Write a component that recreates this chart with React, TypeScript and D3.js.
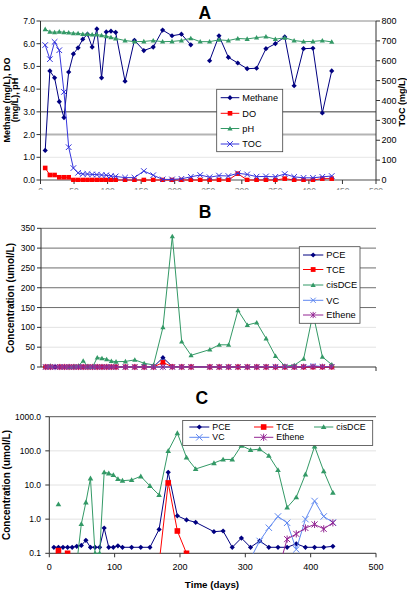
import React from "react";
import * as d3 from "d3";

// ---------- DATA ----------
const fieldDays = [7, 14, 21, 28, 35, 42, 49, 56, 63, 70, 77, 84, 91, 98, 105, 112, 126, 140, 154, 168, 182, 196, 210, 224, 238, 252, 266, 280, 294, 308, 322, 336, 350, 364, 378, 392, 406, 420, 434];
const methane = [1.3, 4.8, 4.5, 3.45, 2.75, 4.75, 5.55, 5.82, 6.2, 6.42, 5.85, 6.65, 4.5, 6.52, 6.55, 6.5, 4.35, 6.15, 5.7, 5.85, 6.6, 6.35, 6.42, 5.95, null, 5.25, 6.35, 5.4, 5.15, 4.9, 4.92, 5.78, 6.0, 6.3, 4.15, 5.78, 5.8, 2.95, 4.8];
const dissolvedO2 = [0.53, 0.22, 0.22, 0.12, 0.12, 0.12, 0, 0, 0, 0, 0, 0, 0, 0, 0, 0, 0, 0, 0, 0, 0, 0, 0, 0, 0, 0, 0, 0, 0.28, 0, 0, 0, 0, 0.06, 0, 0, 0, 0.06, 0.06];
const pH = [6.64, 6.52, 6.5, 6.53, 6.5, 6.49, 6.46, 6.46, 6.42, 6.42, 6.4, 6.4, 6.37, 6.33, 6.28, 6.23, 6.14, 6.09, 6.1, 6.14, 6.09, 6.1, 6.14, 6.24, 6.09, 6.09, 6.17, 6.14, 6.23, 6.21, 6.27, 6.31, 6.2, 6.26, 6.14, 6.09, 6.1, 6.14, 6.08];
const toc = [679, 608, 695, 653, 443, 165, 60, 36, 30, 30, 28, 27, 25, 24, 20, 18, 12, 12, 45, 24, 3, 3, 6, 16, 25, 14, 22, 20, 34, 28, 17, 18, 16, 30, 16, 11, 11, 16, 20];

const vocDays = [7, 14, 21, 28, 35, 42, 49, 56, 63, 70, 77, 84, 91, 98, 105, 112, 126, 140, 154, 168, 182, 196, 210, 224, 252, 266, 280, 294, 308, 322, 336, 350, 364, 378, 392, 406, 420, 434];
const pce = [0.15, 0.15, 0.15, 0.15, 0.15, 0.16, 0.17, 0.24, 0.15, 0.15, 0.15, 0.55, 0.15, 0.15, 0.165, 0.15, 0.15, 0.15, 0.15, 0.5, 23.5, 1.25, 0.95, 0.81, 0.43, 0.45, 0.15, 0.28, 0.15, 0.23, 0.15, 0.15, 0.15, 0.19, 0.15, 0.15, 0.15, 0.16];
const tce = [0.08, 0.12, null, 0.1, 0.05, 0.05, 0.05, 0.05, 0.05, 0.05, 0.05, 0.05, 0.05, 0.05, 0.05, 0.05, 0.05, 0.05, 0.05, 0.05, 11.5, 0.45, 0.1, 0.05, 0.05, 0.05, 0.05, 0.05, 0.05, 0.05, 0.05, 0.05, 0.05, 0.05, 0.05, 0.05, 0.05, 0.05];
const cisDCE = [null, 2.73, null, null, null, 0.05, 0.72, 3.1, 15.7, 0.1, 0.1, 23.6, 22, 19.6, 15, 13.4, 14, 18, 9.4, 5.1, 100, 330, 64, 29.5, 44, 56, 56, 143, 106, 112, 72, 27.5, 2.2, 4.4, 20.5, 135, 25.5, 6];
const vc = [0.05, 0.05, 0.05, 0.05, 0.05, 0.05, 0.05, 0.05, 0.05, 0.05, 0.05, 0.05, 0.05, 0.05, 0.05, 0.05, 0.05, 0.05, 0.05, 0.05, 0.05, 0.05, 0.05, 0.05, 0.05, 0.05, 0.05, 0.05, 0.07, 0.23, 0.56, 1.2, 0.78, 0.13, 1.0, 3.4, 1.2, 0.8];
const ethene = [0.03, 0.03, 0.03, 0.03, 0.03, 0.03, 0.03, 0.03, 0.03, 0.03, 0.03, 0.03, 0.03, 0.03, 0.03, 0.03, 0.03, 0.03, 0.03, 0.03, 0.03, 0.03, 0.03, 0.03, 0.03, 0.03, 0.03, 0.03, 0.03, 0.03, 0.03, 0.03, 0.26, 0.37, 0.55, 0.7, 0.52, 0.78];

const leftTicksA = [0, 1, 2, 3, 4, 5, 6, 7];
const rightTicksA = [0, 100, 200, 300, 400, 500, 600, 700, 800];
const xTicksA = [0, 50, 100, 150, 200, 250, 300, 350, 400, 450, 500];
const yTicksB = [0, 50, 100, 150, 200, 250, 300, 350];
const yTicksC = [0.1, 1, 10, 100, 1000];
const xTicksC = [0, 100, 200, 300, 400, 500];

// ---------- STYLE ----------
const FONT = "'Liberation Sans', Arial, Helvetica, sans-serif";
const NAVY = "#000080";
const RED = "#ff0000";
const GREEN = "#339966";
const TOCBLUE = "#3535dd";
const VCBLUE = "#5f88f0";
const PURPLE = "#932593";
const AXIS = "#333";

type MType = "diamond" | "square" | "triangle" | "x" | "star";

function Marker({ type, x, y, s, color }: { type: MType; x: number; y: number; s: number; color: string }) {
  switch (type) {
    case "diamond":
      return <path d={`M${x},${y - s}L${x + s},${y}L${x},${y + s}L${x - s},${y}Z`} fill={color} />;
    case "square":
      return <rect x={x - s} y={y - s} width={2 * s} height={2 * s} fill={color} />;
    case "triangle":
      return <path d={`M${x},${y - s}L${x + s},${y + s * 0.75}L${x - s},${y + s * 0.75}Z`} fill={color} />;
    case "x":
      return <path d={`M${x - s},${y - s}L${x + s},${y + s}M${x - s},${y + s}L${x + s},${y - s}`} stroke={color} strokeWidth={1} fill="none" />;
    case "star":
      return (
        <path
          d={`M${x - s},${y - s}L${x + s},${y + s}M${x - s},${y + s}L${x + s},${y - s}M${x},${y - s * 1.2}L${x},${y + s * 1.2}`}
          stroke={color}
          strokeWidth={1}
          fill="none"
        />
      );
  }
  return null;
}

function Series({ days, vals, xs, ys, color, type, s, clipId, minV }: any) {
  const pts: [number, number | null][] = days.map((d: number, i: number) => [d, vals[i]]);
  const line = d3
    .line<[number, number | null]>()
    .defined((d) => d[1] != null)
    .x((d) => xs(d[0]))
    .y((d) => ys(d[1] as number));
  return (
    <g clipPath={clipId ? `url(#${clipId})` : undefined}>
      <path d={line(pts) || ""} fill="none" stroke={color} strokeWidth={1} />
      {pts
        .filter((p) => p[1] != null && (minV == null || (p[1] as number) >= minV))
        .map((p, i) => (
          <Marker key={i} type={type} x={xs(p[0])} y={ys(p[1] as number)} s={s} color={color} />
        ))}
    </g>
  );
}

function LegendItem({ x1, x2, y, color, type, s, label, fs }: any) {
  return (
    <g>
      <line x1={x1} x2={x2} y1={y} y2={y} stroke={color} strokeWidth={1} />
      <Marker type={type} x={(x1 + x2) / 2} y={y} s={s} color={color} />
      <text x={x2 + 3} y={y + fs * 0.35} fontSize={fs} fontFamily={FONT} fill="#000">
        {label}
      </text>
    </g>
  );
}

export default function App() {
  // Panel A
  const xA = d3.scaleLinear().domain([0, 500]).range([40.5, 376]);
  const yA = d3.scaleLinear().domain([0, 7]).range([180, 21]);
  const yAR = d3.scaleLinear().domain([0, 800]).range([180, 21]);
  // Panel B
  const xB = d3.scaleLinear().domain([0, 500]).range([41, 376]);
  const yB = d3.scaleLinear().domain([0, 350]).range([367, 228.3]);
  // Panel C
  const xC = d3.scaleLinear().domain([0, 500]).range([49.3, 376]);
  const yC = d3.scaleLog().domain([0.1, 1000]).range([553.3, 416.7]);

  const gridA = (v: number) => (v === 3 ? { c: "#3a3a3a", w: 1 } : v === 2 ? { c: "#b4b4b4", w: 2 } : v === 7 ? { c: "#8a8a8a", w: 1 } : v === 0 ? { c: "#8a8a8a", w: 1.5 } : { c: "#e6e6e6", w: 1 });
  const gridB = (v: number) => (v >= 150 ? { c: "#6e6e6e", w: 1 } : { c: "#e2e2e2", w: 1 });

  return (
    <svg width={407} height={593} style={{ position: "absolute", left: 0, top: 0, background: "#fff" }} fontFamily={FONT}>
      <defs>
        <clipPath id="clipA">
          <rect x={40} y={15} width={337} height={167} />
        </clipPath>
        <clipPath id="clipAx">
          <rect x={0} y={182} width={407} height={8} />
        </clipPath>
        <clipPath id="clipB">
          <rect x={41} y={225} width={336} height={146} />
        </clipPath>
        <clipPath id="clipC">
          <rect x={49.3} y={416} width={327} height={137.8} />
        </clipPath>
      </defs>
      <rect x={0} y={0} width={407} height={593} fill="#fff" />

      {/* ---------------- Panel A ---------------- */}
      <text x={204.7} y={19.3} fontSize={17.5} fontWeight="bold" textAnchor="middle">A</text>
      {leftTicksA.map((v) => {
        const g = gridA(v);
        return <line key={v} x1={xA(0)} x2={xA(500)} y1={yA(v)} y2={yA(v)} stroke={g.c} strokeWidth={g.w} />;
      })}
      <line x1={40.5} x2={40.5} y1={21} y2={180} stroke={AXIS} />
      <line x1={376} x2={376} y1={21} y2={180} stroke={AXIS} />
      {leftTicksA.map((v) => (
        <g key={v}>
          <line x1={36.5} x2={40.5} y1={yA(v)} y2={yA(v)} stroke={AXIS} />
          <text x={35} y={yA(v) + 3} fontSize={8.5} textAnchor="end">{v.toFixed(1)}</text>
        </g>
      ))}
      {rightTicksA.map((v) => (
        <g key={v}>
          <line x1={376} x2={380} y1={yAR(v)} y2={yAR(v)} stroke={AXIS} />
          <text x={381.5} y={yAR(v) + 3.2} fontSize={9}>{v}</text>
        </g>
      ))}
      {xTicksA.map((v) => (
        <line key={v} x1={xA(v)} x2={xA(v)} y1={180} y2={184} stroke={AXIS} />
      ))}
      <g clipPath="url(#clipAx)">
        {xTicksA.map((v) => (
          <text key={v} x={xA(v)} y={193.5} fontSize={8.5} textAnchor="middle" fill="#888">{v}</text>
        ))}
      </g>
      <text transform="translate(10,100) rotate(-90)" fontSize={9} fontWeight="bold" textAnchor="middle">Methane (mg/L), DO</text>
      <text transform="translate(17.7,100) rotate(-90)" fontSize={9} fontWeight="bold" textAnchor="middle">(mg/L), pH</text>
      <text transform="translate(405,102) rotate(-90)" fontSize={9} fontWeight="bold" textAnchor="middle">TOC (mg/L)</text>

      <Series days={fieldDays} vals={methane} xs={xA} ys={yA} color={NAVY} type="diamond" s={2.6} clipId="clipA" />
      <Series days={fieldDays} vals={dissolvedO2} xs={xA} ys={yA} color={RED} type="square" s={2.3} clipId="clipA" />
      <Series days={fieldDays} vals={pH} xs={xA} ys={yA} color={GREEN} type="triangle" s={2.6} clipId="clipA" />
      <Series days={fieldDays} vals={toc} xs={xA} ys={yAR} color={TOCBLUE} type="x" s={2.8} clipId="clipA" />

      <rect x={216.7} y={89.3} width={66} height={62.4} fill="#fff" stroke="#444" strokeWidth={0.8} />
      <LegendItem x1={220.7} x2={239.3} y={97.7} color={NAVY} type="diamond" s={2.6} label="Methane" fs={9.2} />
      <LegendItem x1={220.7} x2={239.3} y={113.3} color={RED} type="square" s={2.3} label="DO" fs={9.2} />
      <LegendItem x1={220.7} x2={239.3} y={128.5} color={GREEN} type="triangle" s={2.6} label="pH" fs={9.2} />
      <LegendItem x1={220.7} x2={239.3} y={144} color={TOCBLUE} type="x" s={2.8} label="TOC" fs={9.2} />

      {/* ---------------- Panel B ---------------- */}
      <text x={205} y={218.3} fontSize={17.5} fontWeight="bold" textAnchor="middle">B</text>
      {yTicksB.map((v) => {
        const g = gridB(v);
        return v === 0 ? null : <line key={v} x1={xB(0)} x2={xB(500)} y1={yB(v)} y2={yB(v)} stroke={g.c} strokeWidth={g.w} />;
      })}
      <line x1={41} x2={41} y1={228.3} y2={367} stroke={AXIS} />
      <line x1={41} x2={376} y1={367} y2={367} stroke={AXIS} />
      <line x1={376} x2={376} y1={367} y2={371} stroke={AXIS} />
      {yTicksB.map((v) => (
        <g key={v}>
          <line x1={37} x2={41} y1={yB(v)} y2={yB(v)} stroke={AXIS} />
          <text x={35} y={yB(v) + 3} fontSize={8.5} textAnchor="end">{v}</text>
        </g>
      ))}
      <text transform="translate(14,298) rotate(-90)" fontSize={10} fontWeight="bold" textAnchor="middle">Concentration (umol/L)</text>

      <Series days={vocDays} vals={pce} xs={xB} ys={yB} color={NAVY} type="diamond" s={2.6} clipId="clipB" />
      <Series days={vocDays} vals={tce} xs={xB} ys={yB} color={RED} type="square" s={2.4} clipId="clipB" />
      <Series days={vocDays} vals={cisDCE} xs={xB} ys={yB} color={GREEN} type="triangle" s={2.6} clipId="clipB" />
      <Series days={vocDays} vals={vc} xs={xB} ys={yB} color={VCBLUE} type="x" s={2.6} clipId="clipB" />
      <Series days={vocDays} vals={ethene} xs={xB} ys={yB} color={PURPLE} type="star" s={2.6} clipId="clipB" />

      <rect x={299.3} y={246.7} width={60.7} height={76.6} fill="#fff" stroke="#444" strokeWidth={0.8} />
      <LegendItem x1={303} x2={323.3} y={255} color={NAVY} type="diamond" s={2.6} label="PCE" fs={9.3} />
      <LegendItem x1={303} x2={323.3} y={269.5} color={RED} type="square" s={2.4} label="TCE" fs={9.3} />
      <LegendItem x1={303} x2={323.3} y={285} color={GREEN} type="triangle" s={2.6} label="cisDCE" fs={9.3} />
      <LegendItem x1={303} x2={323.3} y={300.3} color={VCBLUE} type="x" s={2.6} label="VC" fs={9.3} />
      <LegendItem x1={303} x2={323.3} y={315} color={PURPLE} type="star" s={2.6} label="Ethene" fs={9.3} />

      {/* ---------------- Panel C ---------------- */}
      <text x={201.7} y={403.8} fontSize={17.5} fontWeight="bold" textAnchor="middle">C</text>
      {yTicksC.map((v) =>
        v === 0.1 ? null : (
          <line key={v} x1={xC(0)} x2={xC(500)} y1={yC(v)} y2={yC(v)} stroke={v === 1000 ? "#555" : "#e2e2e2"} strokeWidth={1} />
        )
      )}
      <line x1={49.3} x2={49.3} y1={416.7} y2={553.3} stroke={AXIS} />
      <line x1={49.3} x2={376} y1={553.3} y2={553.3} stroke={AXIS} />
      {yTicksC.map((v) => (
        <g key={v}>
          <line x1={45.3} x2={49.3} y1={yC(v)} y2={yC(v)} stroke={AXIS} />
          <text x={41} y={yC(v) + 3} fontSize={8.5} textAnchor="end">{v.toFixed(1)}</text>
        </g>
      ))}
      {xTicksC.map((v) => (
        <g key={v}>
          <line x1={xC(v)} x2={xC(v)} y1={553.3} y2={557.3} stroke={AXIS} />
          <text x={xC(v)} y={570} fontSize={9} textAnchor="middle">{v}</text>
        </g>
      ))}
      <text x={212} y={587.5} fontSize={9.8} fontWeight="bold" textAnchor="middle">Time (days)</text>
      <text transform="translate(9.5,485) rotate(-90)" fontSize={10} fontWeight="bold" textAnchor="middle">Concentration (umol/L)</text>

      <Series days={vocDays} vals={pce} xs={xC} ys={yC} color={NAVY} type="diamond" s={2.6} clipId="clipC" minV={0.1} />
      <Series days={vocDays} vals={tce} xs={xC} ys={yC} color={RED} type="square" s={2.8} clipId="clipC" minV={0.1} />
      <Series days={vocDays} vals={cisDCE} xs={xC} ys={yC} color={GREEN} type="triangle" s={2.8} clipId="clipC" minV={0.1} />
      <Series days={vocDays} vals={vc} xs={xC} ys={yC} color={VCBLUE} type="x" s={3.2} clipId="clipC" minV={0.1} />
      <Series days={vocDays} vals={ethene} xs={xC} ys={yC} color={PURPLE} type="star" s={3} clipId="clipC" minV={0.1} />

      <rect x={182.7} y={420.5} width={190} height={25} fill="#fff" stroke="#444" strokeWidth={0.8} />
      <LegendItem x1={189.3} x2={209.3} y={427} color={NAVY} type="diamond" s={2.6} label="PCE" fs={8.8} />
      <LegendItem x1={254} x2={273.3} y={427} color={RED} type="square" s={2.8} label="TCE" fs={8.8} />
      <LegendItem x1={314} x2={333.3} y={427} color={GREEN} type="triangle" s={2.8} label="cisDCE" fs={8.8} />
      <LegendItem x1={189.3} x2={209.3} y={437.3} color={VCBLUE} type="x" s={3.2} label="VC" fs={8.8} />
      <LegendItem x1={254} x2={273.3} y={437.3} color={PURPLE} type="star" s={3} label="Ethene" fs={8.8} />
    </svg>
  );
}
